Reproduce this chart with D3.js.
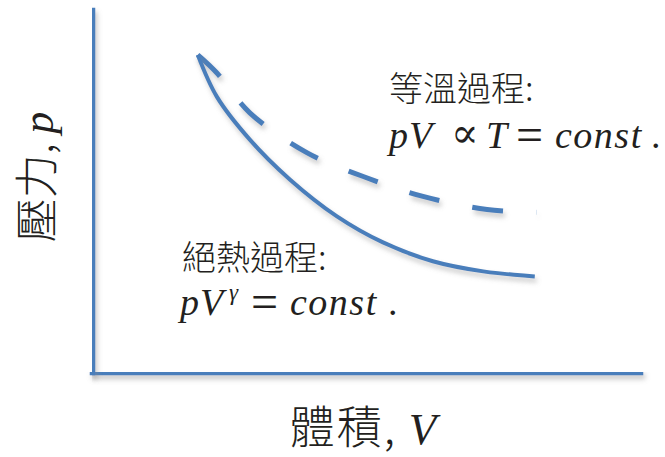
<!DOCTYPE html>
<html>
<head>
<meta charset="utf-8">
<script src="https://cdn.jsdelivr.net/npm/d3@7"></script>
<style>
  body { margin: 0; background: #fff; }
  svg { display: block; }
  .cjk { font-family: "Noto Sans CJK TC", "Noto Sans CJK SC", sans-serif; font-weight: 300; fill: #231f20; }
  .math { font-family: "Liberation Serif", "DejaVu Serif", serif; fill: #231f20; }
  .it { font-style: italic; }
</style>
</head>
<body>
<div id="chart"></div>
<script>
// Adiabatic curve (solid): V and p in arbitrary units
const adiabatV = [1.93, 2.28, 2.88, 3.61, 4.47, 5.31, 6.22, 7.14, 8.08]
const adiabatP = [8.76, 7.60, 6.42, 5.32, 4.30, 3.58, 3.06, 2.78, 2.64]

// Isothermal curve (dashed)
const isothermV = [1.93, 2.28, 2.88, 3.92, 4.95, 6.04, 7.21, 8.12]
const isothermP = [8.76, 8.26, 7.16, 6.06, 5.40, 4.85, 4.49, 4.41]

const xLabel = '體積, '
const yLabel = '壓力, '
const isoTitle = '等溫過程:'
const adiTitle = '絕熱過程:'

const width = 665
const height = 457
const margin = { top: 10, right: 25, bottom: 85, left: 92 }
const blue = '#4a7ebb'

const svg = d3.select('#chart').append('svg')
  .attr('width', width)
  .attr('height', height)

// soft grey shadow under the blue strokes (user space so flat lines still render)
const filter = svg.append('defs').append('filter')
  .attr('id', 'shadow')
  .attr('filterUnits', 'userSpaceOnUse')
  .attr('x', 0).attr('y', 0)
  .attr('width', width).attr('height', height)
filter.append('feDropShadow')
  .attr('dx', 2).attr('dy', 4)
  .attr('stdDeviation', 2.5)
  .attr('flood-color', '#888')
  .attr('flood-opacity', 0.45)

const xScale = d3.scaleLinear()
  .domain([0, 10])
  .range([margin.left, width - margin.right])

const yScale = d3.scaleLinear()
  .domain([0, 10])
  .range([height - margin.bottom, margin.top])

// Axes: only the domain lines, no ticks
const xAxis = svg.append('g')
  .attr('transform', `translate(0, ${yScale(0)})`)
  .call(d3.axisBottom(xScale).ticks(0).tickSizeOuter(0))
const yAxis = svg.append('g')
  .attr('transform', `translate(${xScale(0)}, 0)`)
  .call(d3.axisLeft(yScale).ticks(0).tickSizeOuter(0))

;[xAxis, yAxis].forEach(ax => {
  ax.select('.domain')
    .attr('stroke', blue)
    .attr('stroke-width', 5.5)
    .attr('stroke-linecap', 'square')
    .attr('filter', 'url(#shadow)')
})

const line = d3.line()
  .x(d => xScale(d[0]))
  .y(d => yScale(d[1]))
  .curve(d3.curveCatmullRom)

svg.append('path')
  .datum(isothermV.map((v, i) => [v, isothermP[i]]))
  .attr('d', line)
  .attr('fill', 'none')
  .attr('stroke', blue)
  .attr('stroke-width', 5)
  .attr('stroke-dasharray', '31 33.5')
  .attr('filter', 'url(#shadow)')

svg.append('path')
  .datum(adiabatV.map((v, i) => [v, adiabatP[i]]))
  .attr('d', line)
  .attr('fill', 'none')
  .attr('stroke', blue)
  .attr('stroke-width', 4)
  .attr('filter', 'url(#shadow)')

// Annotations
svg.append('text')
  .attr('class', 'cjk')
  .attr('x', 389).attr('y', 101)
  .style('font-size', '34px')
  .text(isoTitle)

// equation pieces are placed one by one to get the wide TeX spacing
const isoEq = svg.append('text')
  .attr('class', 'math')
  .attr('y', 148)
  .style('font-size', '38px')
isoEq.append('tspan').attr('class', 'it').attr('x', 389).style('letter-spacing', '1px').text('pV')
isoEq.append('tspan').attr('x', 451).style('font-size', '41px').attr('dy', -1).text('∝')
isoEq.append('tspan').attr('class', 'it').attr('x', 486).attr('dy', 1).text('T')
isoEq.append('tspan').attr('x', 516).attr('dy', 3).style('font-size', '48px').text('=')
isoEq.append('tspan').attr('class', 'it').attr('x', 555).attr('dy', -3).style('letter-spacing', '1.5px').text('const')
isoEq.append('tspan').attr('x', 651).text('.')

svg.append('text')
  .attr('class', 'cjk')
  .attr('x', 182).attr('y', 270)
  .style('font-size', '34px')
  .text(adiTitle)

const adiEq = svg.append('text')
  .attr('class', 'math')
  .attr('y', 315)
  .style('font-size', '38px')
adiEq.append('tspan').attr('class', 'it').attr('x', 180).style('letter-spacing', '1px').text('pV')
adiEq.append('tspan').attr('class', 'it').style('font-size', '23px')
  .attr('x', 229).attr('dy', -15).text('γ')
adiEq.append('tspan').attr('x', 251).attr('dy', 18).style('font-size', '48px').text('=')
adiEq.append('tspan').attr('class', 'it').attr('x', 290).attr('dy', -3).style('letter-spacing', '1.5px').text('const')
adiEq.append('tspan').attr('x', 388).text('.')

// Axis titles
const xTitle = svg.append('text')
  .attr('x', 364).attr('y', 444)
  .attr('text-anchor', 'middle')
  .style('font-size', '45px')
  .style('letter-spacing', '2px')
xTitle.append('tspan').attr('class', 'cjk').text(xLabel)
xTitle.append('tspan').attr('class', 'math it').text('V')

const yTitle = svg.append('text')
  .attr('transform', 'translate(53, 177) rotate(-90)')
  .attr('text-anchor', 'middle')
  .style('font-size', '44px')
yTitle.append('tspan').attr('class', 'cjk').text(yLabel)
yTitle.append('tspan').attr('class', 'math it').text('p')
</script>
</body>
</html>
